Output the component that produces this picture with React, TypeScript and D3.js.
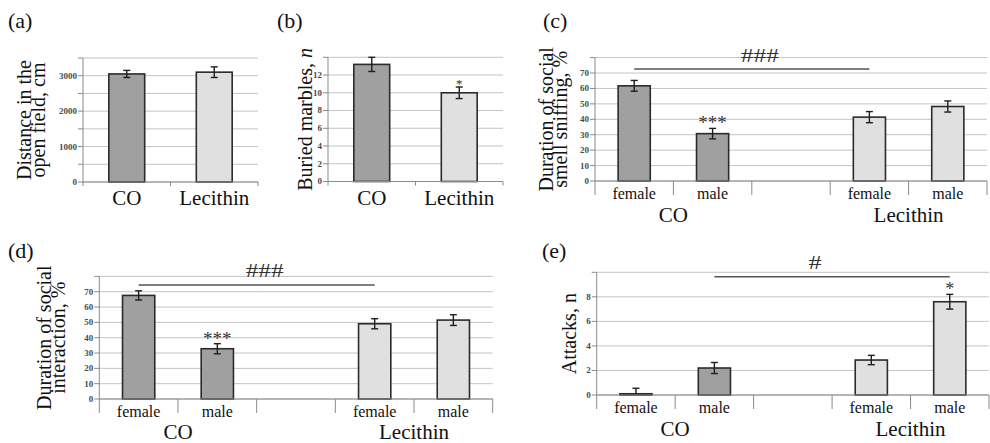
import React from "react";
import * as d3 from "d3";

const W = 990;
const H = 443;
const SERIF = '"Liberation Serif", "Times New Roman", serif';

// Treatment groups
const groupNames = ["CO", "Lecithin"];

// (a) distance travelled in the open field, cm (mean ± SEM)
const distanceMean = [3050, 3100];
const distanceSem = [100, 150];
const distanceStars = ["", ""];

// (b) buried marbles (mean ± SEM)
const marblesMean = [13.2, 10.0];
const marblesSem = [0.8, 0.65];
const marblesStars = ["", "*"];

// Sex-split categories; the empty slot separates the two treatment groups
const sexLabels = ["female", "male", "", "female", "male"];
const sexGroup = ["CO", "CO", "", "Lecithin", "Lecithin"];

// (c) social smell sniffing, %
const sniffMean = [61.7, 30.7, null, 41.4, 48.3];
const sniffSem = [3.5, 3.4, null, 3.6, 3.6];
const sniffStars = ["", "***", "", "", ""];

// (d) social interaction, %
const interactMean = [67.6, 32.8, null, 49.1, 51.5];
const interactSem = [3.0, 3.3, null, 3.3, 3.5];
const interactStars = ["", "***", "", "", ""];

// (e) attacks, n
const attackMean = [0.1, 2.2, null, 2.85, 7.6];
const attackSem = [0.45, 0.45, null, 0.38, 0.6];
const attackStars = ["", "", "", "", "*"];

const FILL: Record<string, string> = { CO: "#a0a0a0", Lecithin: "#e0e0e0" };

type Bracket = { from: number; to: number; at: number; text: string; dx: number; width: number };

type PanelProps = {
  letter: string;
  letterX: number;
  letterY: number;
  x0: number;
  x1: number;
  yTop: number;
  yBottom: number;
  max: number;
  gridStep: number;
  labelStep: number;
  labels: string[];
  groups: string[];
  means: (number | null)[];
  sems: (number | null)[];
  stars: string[];
  starSize: number;
  title: string[];
  titleX: number;
  titleItalicTail?: string;
  twoLevel: boolean;
  bracket?: Bracket;
};

function Panel(p: PanelProps) {
  const keys = p.labels.map((_, i) => String(i));
  const x = d3.scaleBand<string>().domain(keys).range([p.x0, p.x1]).paddingInner(0).paddingOuter(0);
  const y = d3.scaleLinear().domain([0, p.max]).range([p.yBottom, p.yTop]);
  const bw = x.bandwidth() * 0.41;
  const grid = d3.range(0, p.max + p.gridStep / 2, p.gridStep);
  const fmt = d3.format("d");
  const cx = (i: number) => (x(String(i)) as number) + x.bandwidth() / 2;
  const boundaries = keys.map((k) => x(k) as number).concat([p.x1]);
  const tickLen = p.twoLevel ? 14 : 4;
  const midY = (p.yTop + p.yBottom) / 2;

  // group label positions: centre of the member categories
  const groupCentres = groupNames.map((g) => {
    const idx = p.groups.map((gg, i) => (gg === g ? i : -1)).filter((i) => i >= 0);
    return { g, c: d3.mean(idx.map(cx)) as number };
  });

  return (
    <g>
      <text x={p.letterX} y={p.letterY} fontFamily={SERIF} fontSize={22} fill="#111">
        {p.letter}
      </text>

      {grid.map((v) => (
        <line key={"g" + v} x1={p.x0} x2={p.x1} y1={y(v)} y2={y(v)} stroke="#c4c4c4" strokeWidth={1} />
      ))}

      {p.means.map((m, i) =>
        m === null ? null : (
          <rect
            key={"b" + i}
            x={cx(i) - bw / 2}
            y={y(m)}
            width={bw}
            height={y(0) - y(m)}
            fill={FILL[p.groups[i]]}
            stroke="#2b2b2b"
            strokeWidth={1.6}
          />
        )
      )}

      {p.means.map((m, i) => {
        const s = p.sems[i];
        if (m === null || s === null) return null;
        const hi = y(m + s);
        const loV = m - s;
        const lo = y(Math.max(0, loV));
        return (
          <g key={"e" + i} stroke="#1e1e1e" strokeWidth={1.4}>
            <line x1={cx(i)} x2={cx(i)} y1={hi} y2={lo} />
            <line x1={cx(i) - 3.5} x2={cx(i) + 3.5} y1={hi} y2={hi} />
            {loV >= 0 && <line x1={cx(i) - 3.5} x2={cx(i) + 3.5} y1={lo} y2={lo} />}
          </g>
        );
      })}

      {p.stars.map((s, i) => {
        const m = p.means[i];
        const e = p.sems[i];
        if (!s || m === null || e === null) return null;
        return (
          <text
            key={"s" + i}
            x={cx(i)}
            y={y(m + e) + 1}
            textAnchor="middle"
            fontFamily={SERIF}
            fontSize={p.starSize}
            fill="#333"
          >
            {s}
          </text>
        );
      })}

      {/* value axis */}
      <line x1={p.x0} x2={p.x0} y1={p.yTop} y2={p.yBottom} stroke="#8a8a8a" strokeWidth={1} />
      {grid.map((v) => (
        <g key={"t" + v}>
          <line x1={p.x0 - 5} x2={p.x0} y1={y(v)} y2={y(v)} stroke="#8a8a8a" strokeWidth={1} />
          {v % p.labelStep === 0 && v < p.max && (
            <text
              x={p.x0 - 6}
              y={y(v)}
              dy="0.33em"
              textAnchor="end"
              fontFamily={SERIF}
              fontSize={9}
              fontWeight="bold"
              fill="#4a4a4a"
            >
              {fmt(v)}
            </text>
          )}
        </g>
      ))}

      {/* category axis */}
      <line x1={p.x0} x2={p.x1} y1={p.yBottom} y2={p.yBottom} stroke="#8a8a8a" strokeWidth={1.2} />
      {boundaries.map((bx, i) => (
        <line key={"c" + i} x1={bx} x2={bx} y1={p.yBottom} y2={p.yBottom + tickLen} stroke="#8a8a8a" strokeWidth={1} />
      ))}

      {p.twoLevel ? (
        <g fontFamily={SERIF} fill="#111">
          {p.labels.map((l, i) => (
            <text key={"l" + i} x={cx(i)} y={p.yBottom + 18} textAnchor="middle" fontSize={16}>
              {l}
            </text>
          ))}
          {groupCentres.map(({ g, c }) => (
            <text key={g} x={c} y={Math.min(p.yBottom + 41, H - 4)} textAnchor="middle" fontSize={21}>
              {g}
            </text>
          ))}
        </g>
      ) : (
        <g fontFamily={SERIF} fill="#111">
          {p.labels.map((l, i) => (
            <text key={"l" + i} x={cx(i)} y={p.yBottom + 23} textAnchor="middle" fontSize={21}>
              {l}
            </text>
          ))}
        </g>
      )}

      {/* axis title */}
      <g transform={`translate(${p.titleX},${midY}) rotate(-90)`} fontFamily={SERIF} fontSize={20} fill="#111">
        {p.title.map((t, i) => (
          <text key={"ti" + i} x={0} y={(i - (p.title.length - 1)) * 14.5} textAnchor="middle">
            {t}
            {i === p.title.length - 1 && p.titleItalicTail ? (
              <tspan fontStyle="italic">{p.titleItalicTail}</tspan>
            ) : null}
          </text>
        ))}
      </g>

      {p.bracket && (
        <g>
          <line
            x1={cx(p.bracket.from)}
            x2={cx(p.bracket.to)}
            y1={y(p.bracket.at)}
            y2={y(p.bracket.at)}
            stroke="#555"
            strokeWidth={1.5}
          />
          <text
            x={(cx(p.bracket.from) + cx(p.bracket.to)) / 2 + p.bracket.dx}
            y={y(p.bracket.at) - 7.5}
            textAnchor="middle"
            fontFamily={SERIF}
            fontSize={18}
            fill="#333"
            textLength={p.bracket.width}
            lengthAdjust="spacingAndGlyphs"
          >
            {p.bracket.text}
          </text>
        </g>
      )}
    </g>
  );
}

export default function App() {
  return (
    <svg
      width={W}
      height={H}
      viewBox={`0 0 ${W} ${H}`}
      style={{ position: "absolute", left: 0, top: 0, background: "#fff" }}
    >
      <rect width={W} height={H} fill="#fff" />
      <Panel
        letter="(a)"
        letterX={8}
        letterY={28}
        x0={83}
        x1={258}
        yTop={58}
        yBottom={182}
        max={3500}
        gridStep={500}
        labelStep={1000}
        labels={groupNames}
        groups={groupNames}
        means={distanceMean}
        sems={distanceSem}
        stars={distanceStars}
        starSize={13}
        title={["Distance in the", "open field, cm"]}
        titleX={45}
        twoLevel={false}
      />
      <Panel
        letter="(b)"
        letterX={277}
        letterY={28}
        x0={328}
        x1={503}
        yTop={57.3}
        yBottom={181.5}
        max={14}
        gridStep={2}
        labelStep={2}
        labels={groupNames}
        groups={groupNames}
        means={marblesMean}
        sems={marblesSem}
        stars={marblesStars}
        starSize={13}
        title={["Buried marbles, "]}
        titleItalicTail="n"
        titleX={312}
        twoLevel={false}
      />
      <Panel
        letter="(c)"
        letterX={543}
        letterY={28}
        x0={595}
        x1={987}
        yTop={57.6}
        yBottom={181}
        max={80}
        gridStep={10}
        labelStep={10}
        labels={sexLabels}
        groups={sexGroup}
        means={sniffMean}
        sems={sniffSem}
        stars={sniffStars}
        starSize={19}
        title={["Duration of social", "smell sniffing, %"]}
        titleX={567}
        twoLevel={true}
        bracket={{ from: 0, to: 3, at: 72.6, text: "###", dx: 8, width: 38 }}
      />
      <Panel
        letter="(d)"
        letterX={8}
        letterY={258}
        x0={99.3}
        x1={492.7}
        yTop={276.4}
        yBottom={399}
        max={80}
        gridStep={10}
        labelStep={10}
        labels={sexLabels}
        groups={sexGroup}
        means={interactMean}
        sems={interactSem}
        stars={interactStars}
        starSize={19}
        title={["Duration of social", "interaction, %"]}
        titleX={65}
        twoLevel={true}
        bracket={{ from: 0, to: 3, at: 74.4, text: "###", dx: 8, width: 38 }}
      />
      <Panel
        letter="(e)"
        letterX={542}
        letterY={258}
        x0={596.7}
        x1={989}
        yTop={272.3}
        yBottom={395}
        max={10}
        gridStep={2}
        labelStep={2}
        labels={sexLabels}
        groups={sexGroup}
        means={attackMean}
        sems={attackSem}
        stars={attackStars}
        starSize={18}
        title={["Attacks, n"]}
        titleX={576}
        twoLevel={true}
        bracket={{ from: 1, to: 4, at: 9.64, text: "#", dx: -17, width: 13 }}
      />
    </svg>
  );
}
